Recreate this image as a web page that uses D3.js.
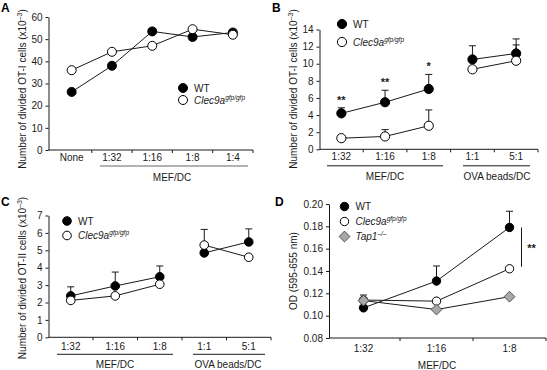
<!DOCTYPE html>
<html><head><meta charset="utf-8">
<script src="https://cdn.jsdelivr.net/npm/d3@7"></script>
<style>
body{margin:0;background:#fff;}
svg{font-family:"Liberation Sans",Arial,sans-serif;}
</style></head>
<body><svg id="chart" width="547" height="370"></svg>
<script>
// ---------- DATA ----------
const catsA = ["None","1:32","1:16","1:8","1:4"];
const aWT = [26.2, 38, 53.5, 51, 53];
const aKO = [36, 44.3, 47, 54.5, 52];
const ticksA = [0,10,20,30,40,50,60];

const catsB = ["1:32","1:16","1:8","1:1","5:1"];
const bWT = [4.2, 5.5, 7.05, 10.5, 11.2];
const bWTerr = [0.65, 1.4, 1.7, 1.6, 1.7];
const bKO = [1.3, 1.5, 2.75, 9.35, 10.35];
const bKOerr = [0, 0.8, 1.85, 0, 1.85];
const bStars = ["**","**","*","",""];
const ticksB = [0,2,4,6,8,10,12,14];

const catsC = ["1:32","1:16","1:8","1:1","5:1"];
const cWT = [2.38, 2.95, 3.48, 4.85, 5.48];
const cWTerr = [0.52, 0.8, 0.62, 0, 0.75];
const cKO = [2.12, 2.38, 3.05, 5.3, 4.6];
const cKOerr = [0, 0, 0, 0.9, 0];
const ticksC = [0,1,2,3,4,5,6,7];

const catsD = ["1:32","1:16","1:8"];
const dWT = [0.107, 0.131, 0.179];
const dWTerr = [0, 0.0135, 0.0145];
const dKO = [0.114, 0.113, 0.142];
const dKOerr = [0, 0, 0];
const dTap = [0.1135, 0.1055, 0.117];
const dTaperr = [0.005, 0, 0];
const ticksD = [0.08,0.10,0.12,0.14,0.16,0.18,0.20];

// ---------- DRAW ----------
const svg = d3.select("#chart");
const INK = "#1a1a1a";
const FONT = 10;

function panel(o){
  const g = svg.append("g");
  const x = d3.scaleBand().domain(o.cats).range(o.xr).padding(0);
  const y = d3.scaleLinear().domain(o.yd).range(o.yr);
  const ay = y(o.yd[0]);
  // y axis
  const yAxis = d3.axisLeft(y).tickValues(o.ticks).tickSize(3).tickSizeOuter(0).tickPadding(3)
    .tickFormat(o.fmt || d3.format("d"));
  const yg = g.append("g").attr("transform",`translate(${o.ax},0)`).call(yAxis);
  yg.selectAll("path,line").attr("stroke",INK);
  yg.selectAll("text").attr("fill",INK).style("font-size",FONT+"px").style("font-family","Liberation Sans, Arial, sans-serif");
  // x axis line
  g.append("line").attr("x1",o.ax).attr("x2",o.xr[1]).attr("y1",ay).attr("y2",ay).attr("stroke",INK);
  // boundary ticks
  o.cats.forEach((c,i)=>{
    const bx = x(c)+x.bandwidth();
    g.append("line").attr("x1",bx).attr("x2",bx).attr("y1",ay).attr("y2",ay+3).attr("stroke",INK);
    g.append("text").attr("x",x(c)+x.bandwidth()/2).attr("y",ay+o.tlOff).attr("text-anchor","middle")
      .attr("fill",INK).style("font-size",FONT+"px").text(c);
  });
  // group underlines and labels
  (o.groups||[]).forEach(gr=>{
    if(gr.line){
      g.append("line").attr("x1",gr.line[0]).attr("x2",gr.line[1]).attr("y1",ay+o.ulOff).attr("y2",ay+o.ulOff)
        .attr("stroke",gr.color||INK).attr("stroke-width",gr.w||1);
    }
    g.append("text").attr("x",gr.cx).attr("y",ay+o.glOff).attr("text-anchor","middle")
      .attr("fill",INK).style("font-size",FONT+"px").text(gr.label);
  });
  // y title
  const t = g.append("text").attr("transform",`translate(${o.tx},${o.ty}) rotate(-90)`).attr("text-anchor","middle")
    .attr("fill",INK).style("font-size",FONT+"px");
  t.append("tspan").text(o.title);
  if(o.titleSup){
    t.append("tspan").attr("dy",-4).style("font-size","7px").text(o.titleSup);
    t.append("tspan").attr("dy",4).text(")");
  }
  // panel letter
  svg.append("text").attr("x",o.letter[0]).attr("y",o.letter[1]).style("font-weight","bold").style("font-size","12px")
    .attr("fill","#000").text(o.letterText);
  const cx = i=>x(o.cats[i])+x.bandwidth()/2;
  // error bars
  o.series.forEach(s=>{
    (s.err||[]).forEach((e,i)=>{
      if(!e) return;
      const top = y(s.v[i]+e);
      g.append("line").attr("x1",cx(i)).attr("x2",cx(i)).attr("y1",y(s.v[i])).attr("y2",top).attr("stroke",INK);
      g.append("line").attr("x1",cx(i)-3.5).attr("x2",cx(i)+3.5).attr("y1",top).attr("y2",top).attr("stroke",INK);
    });
  });
  // lines
  o.series.forEach(s=>{
    o.segs.forEach(seg=>{
      const pts = seg.map(i=>[cx(i),y(s.v[i])]);
      g.append("path").attr("d",d3.line()(pts)).attr("fill","none").attr("stroke",INK).attr("stroke-width",1);
    });
  });
  // markers
  o.series.forEach(s=>{
    s.v.forEach((v,i)=>drawMarker(g,s.shape,cx(i),y(v),o.r));
  });
  // stars
  (o.stars||[]).forEach((st,i)=>{
    if(!st) return;
    const s0 = o.series[0];
    g.append("text").attr("x",cx(i)).attr("y",y(s0.v[i]+(s0.err[i]||0))-4).attr("text-anchor","middle")
      .style("font-size","11px").style("font-weight","bold").attr("fill",INK).text(st);
  });
  // legend
  o.series.forEach((s,k)=>{
    const ly = o.leg[1]+k*o.leg[2];
    drawMarker(g,s.shape,o.leg[0],ly,o.r);
    const lt = g.append("text").attr("x",o.leg[0]+11).attr("y",ly+3.5).attr("fill",INK).style("font-size",FONT+"px");
    lt.append("tspan").style("font-style",s.italic?"italic":"normal").text(s.name);
    if(s.sup) lt.append("tspan").attr("dy",-4).style("font-size","6.5px").style("font-style","italic").text(s.sup);
  });
  return {x,y,g,cx};
}

function drawMarker(g,shape,x,y,r){
  if(shape==="diamond"){
    const d = r+1.2;
    g.append("path").attr("d",`M${x},${y-d}L${x+d},${y}L${x},${y+d}L${x-d},${y}Z`)
      .attr("fill","#a8a8a8").attr("stroke","#555").attr("stroke-width",1);
  } else {
    g.append("circle").attr("cx",x).attr("cy",y).attr("r",r)
      .attr("fill",shape==="filled"?"#000":"#fff").attr("stroke","#000").attr("stroke-width",1);
  }
}

const supText = "gfp/gfp";

// Panel A
panel({cats:catsA, xr:[51.5,253], ax:48.5, yd:[0,60], yr:[150,17], ticks:ticksA,
  tlOff:11, ulOff:16, glOff:31,
  groups:[{line:[100,248],color:"#999",w:1.3,cx:172,label:"MEF/DC"}],
  tx:26, ty:89, title:"Number of divided OT-I cells (x10", titleSup:"–3",
  letter:[1,12], letterText:"A", r:4.5,
  segs:[[0,1,2,3,4]],
  series:[{v:aWT,shape:"filled",name:"WT"},{v:aKO,shape:"open",name:"Clec9a",italic:true,sup:supText}],
  leg:[183,88,12]
});

// Panel B
panel({cats:catsB, xr:[319.5,538], ax:319.5, yd:[0,14], yr:[149.3,29.5], ticks:ticksB,
  tlOff:11, ulOff:16.5, glOff:31,
  groups:[{line:[327,443],cx:385,label:"MEF/DC"},{line:[463,530],cx:497,label:"OVA beads/DC"}],
  tx:297, ty:89, title:"Number of divided OT-I cells (x10", titleSup:"–3",
  letter:[272,12], letterText:"B", r:4.6,
  segs:[[0,1,2],[3,4]],
  series:[{v:bWT,err:bWTerr,shape:"filled",name:"WT"},{v:bKO,err:bKOerr,shape:"open",name:"Clec9a",italic:true,sup:supText}],
  stars:bStars,
  leg:[342,24,18]
});

// Panel C
panel({cats:catsC, xr:[48.5,271], ax:48.5, yd:[0,7], yr:[337.3,215.5], ticks:ticksC,
  tlOff:13, ulOff:17, glOff:31,
  groups:[{line:[57,173],cx:115,label:"MEF/DC"},{line:[193,265],cx:228,label:"OVA beads/DC"}],
  tx:26, ty:278, title:"Number of divided OT-II cells (x10", titleSup:"–3",
  letter:[1,206], letterText:"C", r:4.3,
  segs:[[0,1,2],[3,4]],
  series:[{v:cWT,err:cWTerr,shape:"filled",name:"WT"},{v:cKO,err:cKOerr,shape:"open",name:"Clec9a",italic:true,sup:supText}],
  leg:[67,221,14.5]
});

// Panel D
const pD = panel({cats:catsD, xr:[327,546], ax:329, yd:[0.08,0.20], yr:[338,204], ticks:ticksD, fmt:d3.format(".2f"),
  tlOff:13.5, ulOff:17, glOff:31,
  groups:[{cx:437,label:"MEF/DC"}],
  tx:297, ty:271, title:"OD (595-655 nm)",
  letter:[275,206], letterText:"D", r:4.2,
  segs:[[0,1,2]],
  series:[{v:dWT,err:dWTerr,shape:"filled",name:"WT"},
          {v:dKO,err:dKOerr,shape:"open",name:"Clec9a",italic:true,sup:supText},
          {v:dTap,err:dTaperr,shape:"diamond",name:"Tap1",italic:true,sup:"–/–"}],
  leg:[344.5,206.5,15]
});
// significance bar in D (between WT and Clec9a at 1:8)
pD.g.append("line").attr("x1",521.5).attr("x2",521.5).attr("y1",pD.y(dWT[2])).attr("y2",pD.y(dKO[2])-2).attr("stroke",INK);
pD.g.append("text").attr("x",531.5).attr("y",pD.y((dWT[2]+dKO[2])/2)+4).attr("text-anchor","middle")
  .style("font-size","11px").style("font-weight","bold").attr("fill",INK).text("**");
</script></body></html>
